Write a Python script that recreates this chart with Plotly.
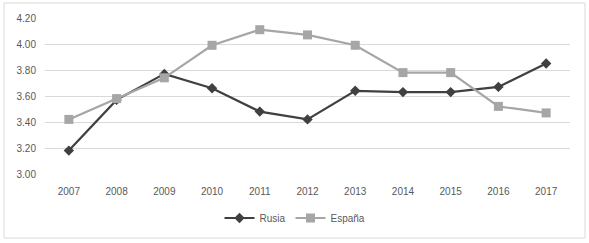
import plotly.graph_objects as go

years = ["2007", "2008", "2009", "2010", "2011", "2012", "2013", "2014", "2015", "2016", "2017"]
rusia = [3.18, 3.57, 3.77, 3.66, 3.48, 3.42, 3.64, 3.63, 3.63, 3.67, 3.85]
espana = [3.42, 3.58, 3.74, 3.99, 4.11, 4.07, 3.99, 3.78, 3.78, 3.52, 3.47]
y_ticks = [3.00, 3.20, 3.40, 3.60, 3.80, 4.00, 4.20]

W, H = 589, 243
ml, mr, mt, mb = 45, 19, 18, 69

fig = go.Figure()
fig.add_trace(go.Scatter(
    x=years, y=rusia, name="Rusia", mode="lines+markers",
    line=dict(color="#404040", width=2.2),
    marker=dict(symbol="diamond", size=8, color="#404040"),
))
fig.add_trace(go.Scatter(
    x=years, y=espana, name="España", mode="lines+markers",
    line=dict(color="#a6a6a6", width=2.2),
    marker=dict(symbol="square", size=9, color="#a6a6a6"),
))

pw = W - ml - mr
ph = H - mt - mb
fig.add_shape(type="rect", xref="paper", yref="paper",
              x0=(4 - ml) / pw, x1=(585 - ml) / pw,
              y0=(H - mb - 238) / ph, y1=(H - mb - 3) / ph,
              line=dict(color="#d9d9d9", width=1), fillcolor="rgba(0,0,0,0)", layer="below")

fig.update_layout(
    width=W, height=H,
    margin=dict(l=ml, r=mr, t=mt, b=mb, autoexpand=False),
    paper_bgcolor="white", plot_bgcolor="white",
    font=dict(family="Liberation Sans, Arial, sans-serif", size=10, color="#595959"),
    showlegend=True,
    legend=dict(orientation="h", x=(295 - ml) / pw, xanchor="center", y=(174 - 218) / ph, yanchor="middle",
                font=dict(size=10, color="#595959"), itemwidth=30, tracegroupgap=0),
    xaxis=dict(type="category", range=[-0.5, 10.5], showgrid=False, zeroline=False,
               showline=False, ticks="", ticklabelstandoff=10,
               tickfont=dict(size=10, color="#595959")),
    yaxis=dict(range=[3.0, 4.2], tickvals=y_ticks, ticktext=[f"{v:.2f}" for v in y_ticks],
               showgrid=True, gridcolor="#d9d9d9", gridwidth=1, zeroline=False,
               showline=False, ticks="", ticklabelstandoff=8,
               tickfont=dict(size=10, color="#595959")),
)

fig.write_html("out.html", config={"displayModeBar": False},
               post_script="document.body.style.margin='0';document.body.style.overflow='hidden';")
